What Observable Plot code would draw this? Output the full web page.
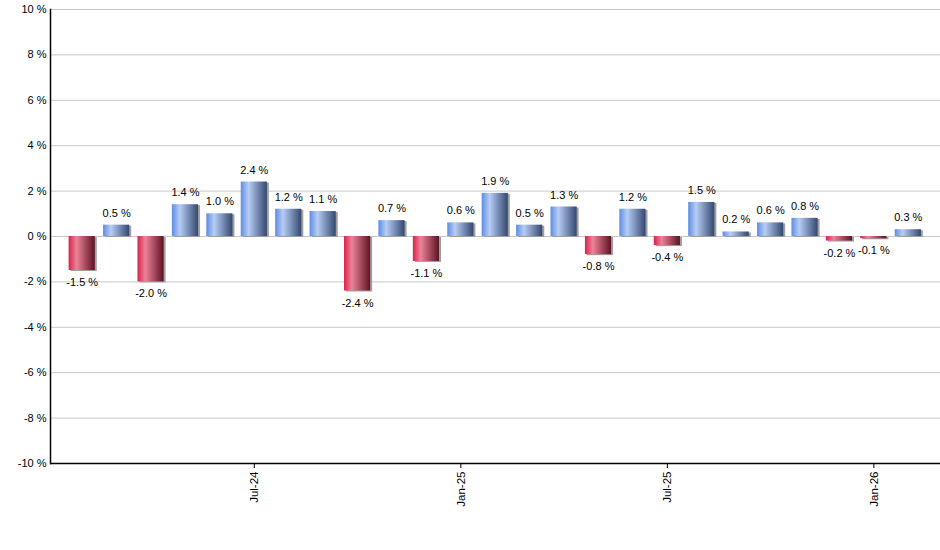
<!DOCTYPE html>
<html><head><meta charset="utf-8">
<script src="https://cdn.jsdelivr.net/npm/d3@7"></script>
<script src="https://cdn.jsdelivr.net/npm/@observablehq/plot@0.6"></script>
<style>body{margin:0;background:#fff;}</style>
</head><body><div id="chart"></div>
<script>
const months = ["Feb-24","Mar-24","Apr-24","May-24","Jun-24","Jul-24","Aug-24","Sep-24","Oct-24","Nov-24","Dec-24","Jan-25","Feb-25","Mar-25","Apr-25","May-25","Jun-25","Jul-25","Aug-25","Sep-25","Oct-25","Nov-25","Dec-25","Jan-26","Feb-26"];
const values = [-1.5,0.5,-2.0,1.4,1.0,2.4,1.2,1.1,-2.4,0.7,-1.1,0.6,1.9,0.5,1.3,-0.8,1.2,-0.4,1.5,0.2,0.6,0.8,-0.2,-0.1,0.3];
const xTicks = ["Jul-24","Jan-25","Jul-25","Jan-26"];
const yTicks = [-10,-8,-6,-4,-2,0,2,4,6,8,10];

const data = months.map((m,i)=>({m, v: values[i]}));
const pos = data.filter(d=>d.v>=0), neg = data.filter(d=>d.v<0);
const fmt = v => v.toFixed(1) + " %";

const chart = Plot.plot({
  width: 940, height: 550,
  marginLeft: 50, marginRight: 0, marginTop: 9, marginBottom: 87,
  style: {fontFamily: "Liberation Sans, Arial, sans-serif", fontSize: "11px", color: "#000", background: "#fff"},
  x: {type: "band", domain: months, range: [64.5, 925], round: false, paddingInner: 0.24, paddingOuter: 0.12, label: null},
  y: {domain: [-10, 10], label: null},
  marks: [
    Plot.ruleY(yTicks, {stroke: "#c8c8c8", strokeWidth: 1}),
    Plot.barY(data, {x: "m", y: "v", fill: "#a0a0a0", dx: 2, dy: 1}),
    Plot.barY(pos, {x: "m", y: "v", fill: "url(#gBlue)"}),
    Plot.barY(neg, {x: "m", y: "v", fill: "url(#gRed)"}),
    Plot.text(pos, {x: "m", y: "v", text: d => fmt(d.v), dy: -12, fill: "#000"}),
    Plot.text(neg, {x: "m", y: "v", text: d => fmt(d.v), dy: 12, fill: "#000"}),
    Plot.axisY({ticks: yTicks, tickFormat: d => d + " %", tickSize: 0, tickPadding: 4, fill: "#000"}),
    Plot.axisX({ticks: xTicks, tickRotate: -90, tickSize: 5, tickPadding: 3, fill: "#000", fontSize: 11.5}),
    Plot.frame({anchor: "left", stroke: "#000", strokeWidth: 1.5}),
    Plot.ruleY([-10], {stroke: "#000", strokeWidth: 1.5})
  ]
});

const ns = "http://www.w3.org/2000/svg";
const defs = document.createElementNS(ns, "defs");
function grad(id, stops){
  const g = document.createElementNS(ns, "linearGradient");
  g.setAttribute("id", id); g.setAttribute("x1","0"); g.setAttribute("x2","1"); g.setAttribute("y1","0"); g.setAttribute("y2","0");
  for (const [o,c] of stops){
    const s = document.createElementNS(ns, "stop");
    s.setAttribute("offset", o); s.setAttribute("stop-color", c);
    g.appendChild(s);
  }
  defs.appendChild(g);
}
grad("gBlue", [[0,"#5e8ce2"],[0.3,"#b6cdf5"],[1,"#34486f"]]);
grad("gRed", [[0,"#d8224a"],[0.3,"#ec8399"],[1,"#5c1322"]]);
chart.insertBefore(defs, chart.firstChild);
document.getElementById("chart").appendChild(chart);
</script></body></html>
